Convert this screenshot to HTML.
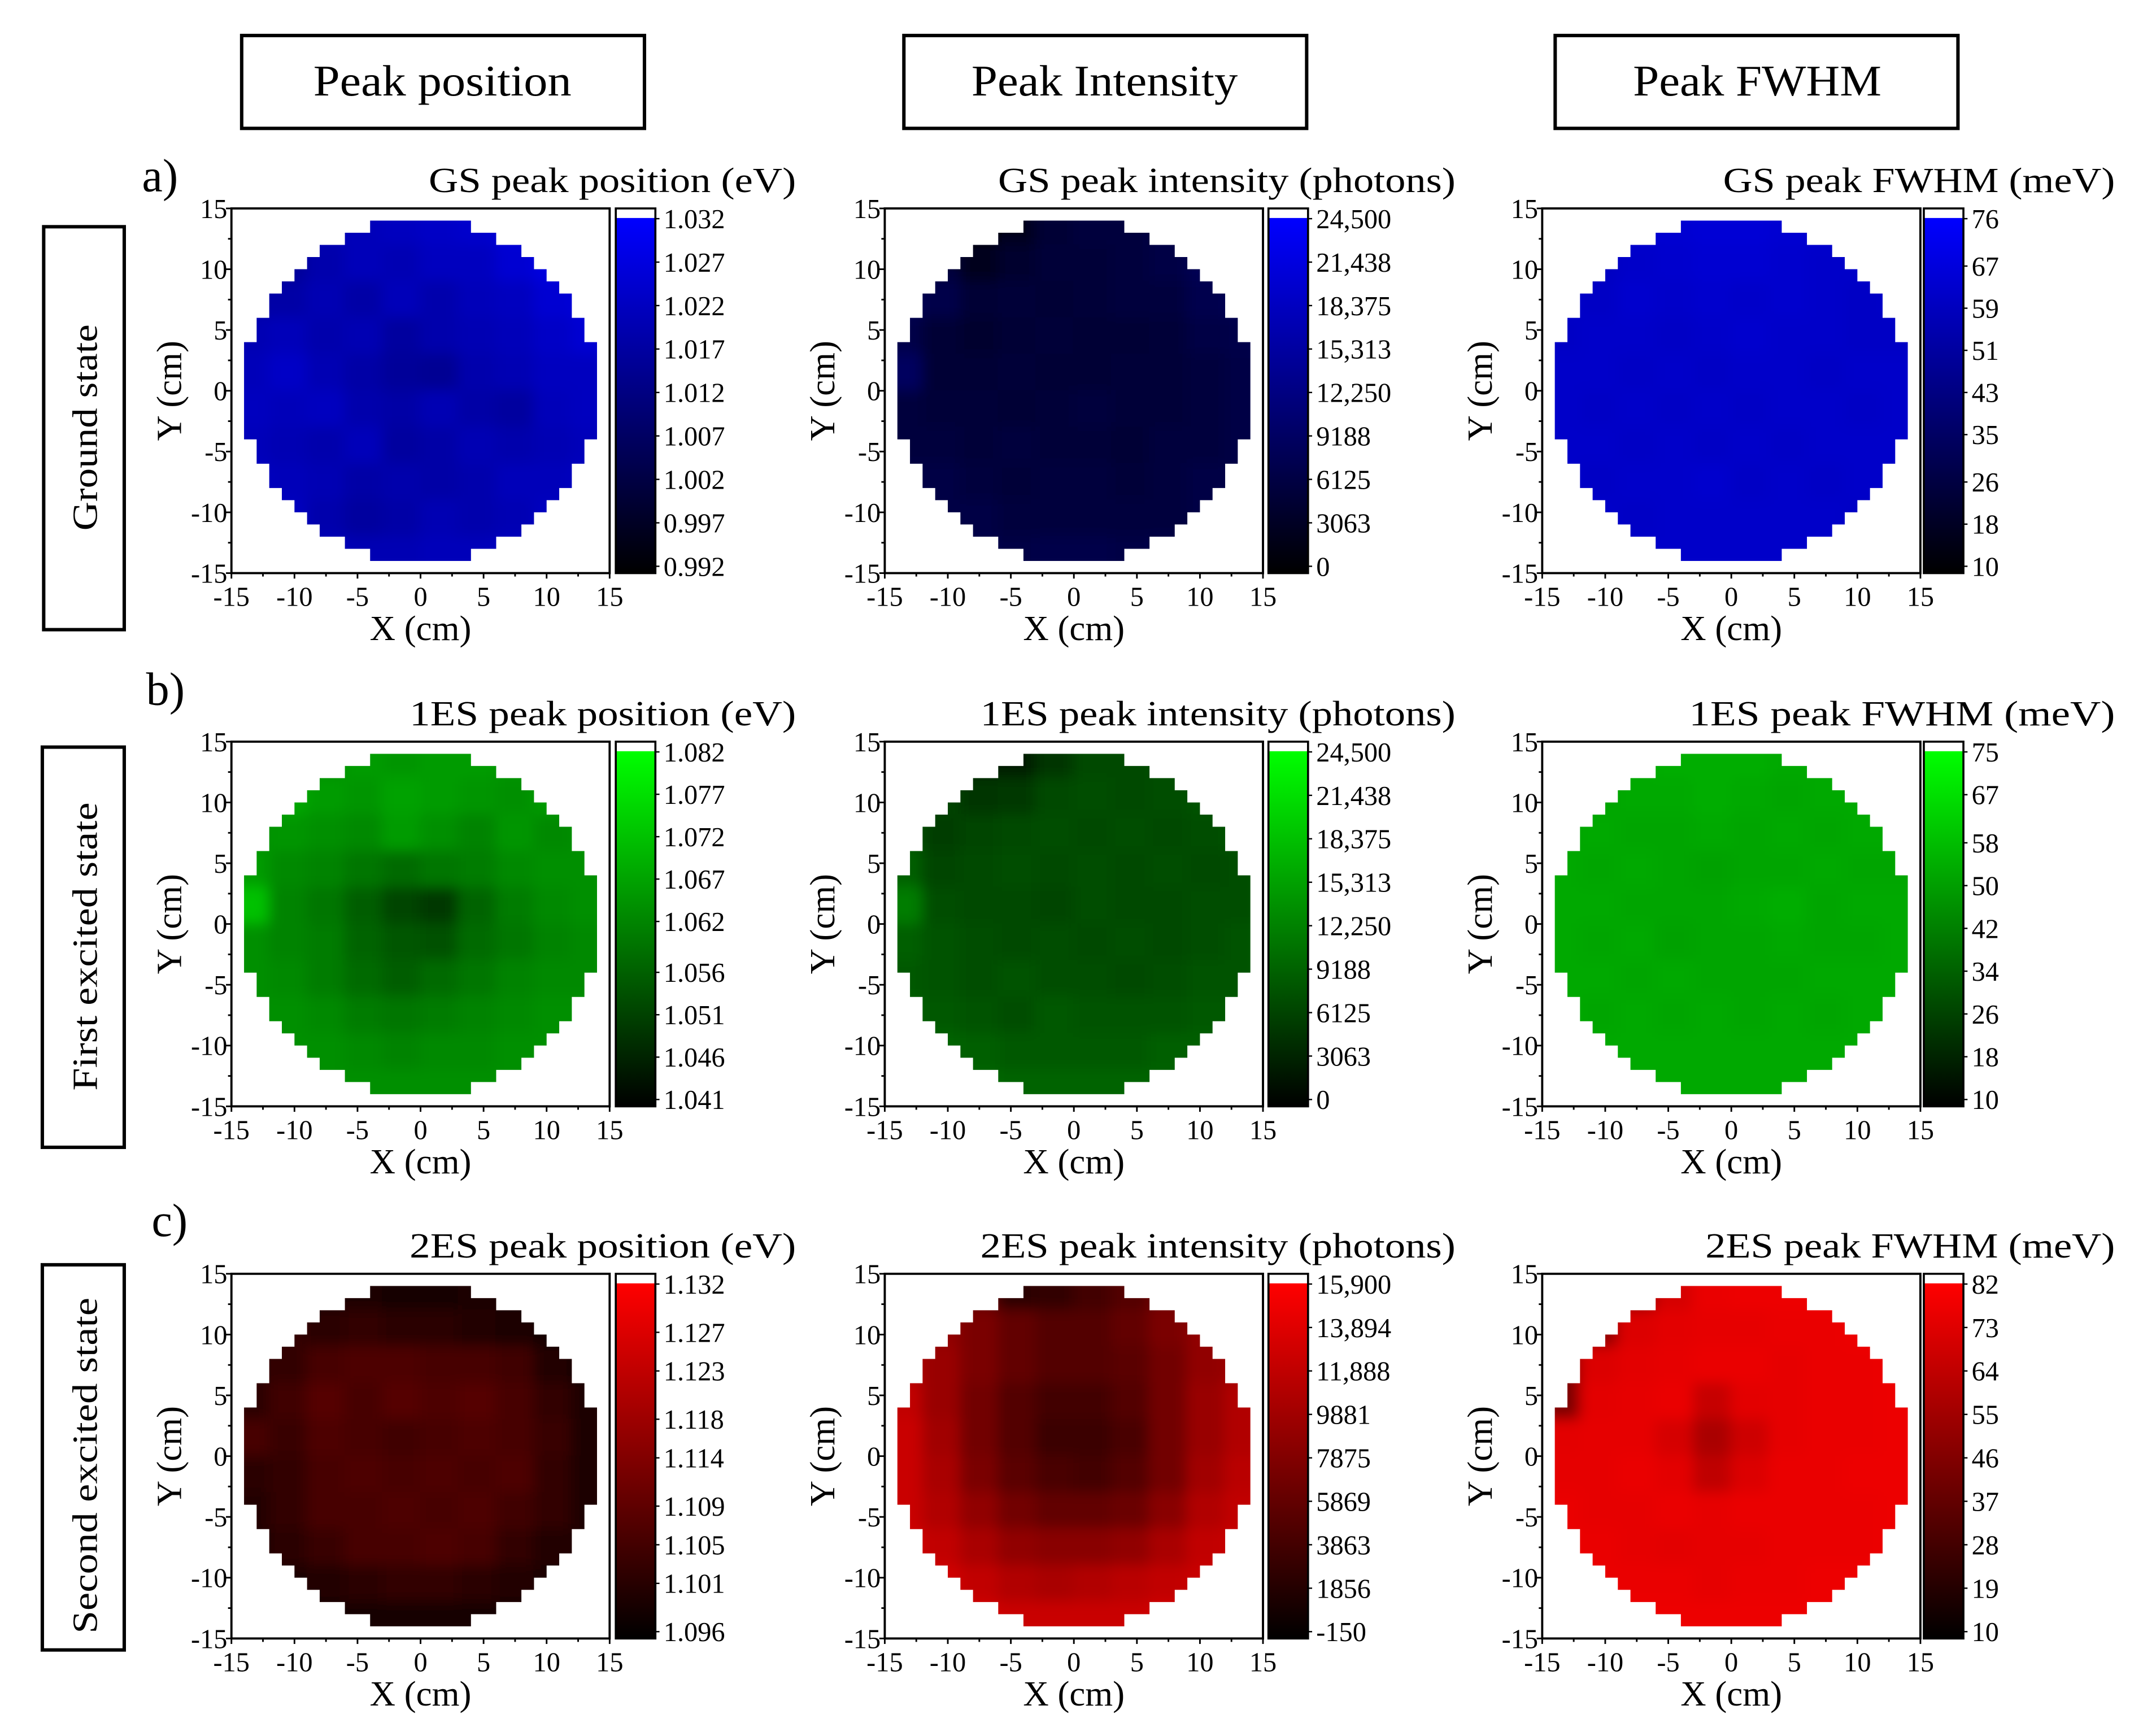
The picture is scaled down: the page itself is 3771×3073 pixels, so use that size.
<!DOCTYPE html>
<html><head><meta charset="utf-8">
<style>
html,body{margin:0;padding:0;background:#fff;}
svg{display:block;font-family:"Liberation Serif",serif;}
</style></head>
<body>
<svg id="fig" width="3771" height="3073" viewBox="0 0 1560 1271" preserveAspectRatio="none" xmlns="http://www.w3.org/2000/svg">
<defs>
<filter id="blur" x="-10%" y="-10%" width="120%" height="120%"><feGaussianBlur stdDeviation="5"/></filter>
</defs>
<rect width="1560" height="1271" fill="#fff"/>
<g>
<rect x="177" y="26" width="295" height="68" fill="none" stroke="#000" stroke-width="2.5"/>
<text x="324" y="70" font-size="32" text-anchor="middle" textLength="189" lengthAdjust="spacingAndGlyphs">Peak position</text></g>
<g>
<rect x="662" y="26" width="295" height="68" fill="none" stroke="#000" stroke-width="2.5"/>
<text x="809" y="70" font-size="32" text-anchor="middle" textLength="195" lengthAdjust="spacingAndGlyphs">Peak Intensity</text></g>
<g>
<rect x="1139" y="26" width="295" height="68" fill="none" stroke="#000" stroke-width="2.5"/>
<text x="1287" y="70" font-size="32" text-anchor="middle" textLength="182" lengthAdjust="spacingAndGlyphs">Peak FWHM</text></g>
<g>
<rect x="32" y="166" width="59" height="295" fill="none" stroke="#000" stroke-width="2.5"/>
<text transform="translate(71,313) rotate(-90)" font-size="26" text-anchor="middle" textLength="151" lengthAdjust="spacingAndGlyphs">Ground state</text></g>
<g>
<rect x="31" y="547" width="60" height="293" fill="none" stroke="#000" stroke-width="2.5"/>
<text transform="translate(71,693) rotate(-90)" font-size="26" text-anchor="middle" textLength="211" lengthAdjust="spacingAndGlyphs">First excited state</text></g>
<g>
<rect x="31" y="926" width="60" height="282" fill="none" stroke="#000" stroke-width="2.5"/>
<text transform="translate(71,1073) rotate(-90)" font-size="26" text-anchor="middle" textLength="246" lengthAdjust="spacingAndGlyphs">Second excited state</text></g>
<text x="104" y="140" font-size="34">a)</text>
<text x="107" y="516" font-size="34">b)</text>
<text x="111" y="905" font-size="34">c)</text>
<g id="panels"></g>
</svg>
<script>
// ---- data (values in colorbar units; 10x10 grid rows top(y=+15) to bottom(y=-15), cols left to right) ----
const gsPosition = [
[1.022,1.022,1.020,1.021,1.022,1.023,1.024,1.026,1.027,1.027],
[1.020,1.016,1.019,1.021,1.020,1.022,1.022,1.025,1.027,1.027],
[1.018,1.018,1.020,1.018,1.021,1.019,1.021,1.022,1.025,1.026],
[1.020,1.021,1.019,1.020,1.017,1.019,1.020,1.021,1.023,1.025],
[1.021,1.023,1.020,1.018,1.016,1.015,1.019,1.020,1.022,1.022],
[1.022,1.021,1.022,1.019,1.018,1.020,1.018,1.017,1.021,1.022],
[1.021,1.020,1.019,1.021,1.017,1.018,1.020,1.019,1.020,1.021],
[1.022,1.021,1.020,1.018,1.019,1.018,1.019,1.021,1.021,1.022],
[1.022,1.022,1.019,1.017,1.018,1.020,1.019,1.020,1.022,1.022],
[1.022,1.022,1.021,1.020,1.020,1.021,1.021,1.022,1.022,1.022]];
const gsIntensity = [
[3000,2000,1500,2500,5000,6000,6000,6500,7000,7000],
[4000,6000,3000,4500,5500,5500,6000,6500,8000,8000],
[8000,7000,5000,5500,5000,5500,6000,6000,7500,8000],
[7000,5000,4500,5000,5500,5000,5000,5500,6500,7000],
[9000,5000,5000,5500,5000,5000,5500,5500,6000,6500],
[6000,5500,5500,5000,5500,6000,5500,5500,6000,6500],
[6000,6000,5500,6000,5500,5500,5000,6000,6000,6500],
[6500,6500,6000,5500,6000,6000,5500,6000,6500,6500],
[6500,6500,6500,6000,6000,6000,6000,6000,6500,6500],
[7000,7000,7000,6500,7000,7000,6500,7000,7000,7000]];
const gsFwhm = [
[62,62,63,64,65,65,64,64,63,63],
[62,60,62,63,64,64,63,62,62,62],
[62,61,63,62,63,62,63,62,61,62],
[61,62,62,61,62,63,62,62,61,61],
[62,62,61,62,61,62,62,61,62,62],
[62,61,62,61,62,61,62,62,61,62],
[62,62,61,62,61,62,61,62,62,62],
[62,61,62,62,63,61,62,61,62,62],
[62,62,61,62,62,62,62,62,61,62],
[62,62,62,62,62,62,62,62,62,62]];
const es1Position = [
[1.066,1.066,1.064,1.066,1.065,1.066,1.066,1.065,1.066,1.066],
[1.066,1.068,1.066,1.065,1.067,1.066,1.065,1.064,1.066,1.066],
[1.064,1.065,1.064,1.063,1.066,1.064,1.062,1.065,1.063,1.064],
[1.066,1.063,1.062,1.060,1.058,1.060,1.061,1.063,1.064,1.064],
[1.072,1.062,1.060,1.056,1.052,1.050,1.057,1.061,1.063,1.064],
[1.064,1.062,1.061,1.057,1.055,1.054,1.058,1.060,1.062,1.063],
[1.064,1.063,1.061,1.058,1.056,1.058,1.060,1.062,1.063,1.063],
[1.064,1.064,1.063,1.061,1.060,1.061,1.062,1.063,1.064,1.064],
[1.064,1.064,1.064,1.063,1.062,1.063,1.063,1.064,1.064,1.064],
[1.064,1.064,1.064,1.064,1.064,1.064,1.064,1.064,1.064,1.064]];
const es1Intensity = [
[5000,4000,3500,3000,5000,7000,7000,7500,8000,8000],
[6000,6500,5000,5500,7000,7500,7000,7500,8000,8000],
[8000,6000,6500,7000,7500,7000,7500,7000,7500,8000],
[9000,6500,7000,7500,7000,7500,7000,7500,7000,7500],
[12000,7500,7000,7000,6500,7500,7000,7000,7500,7500],
[9000,8000,7500,7000,7500,7000,7500,7000,7500,8000],
[8500,8000,7500,8000,7500,7500,7000,7500,8000,8000],
[9000,8500,8000,7500,8500,8000,8000,8000,8500,8500],
[10000,9500,9000,8500,8500,8500,8500,9000,9000,9000],
[10000,10000,10000,9500,9500,9500,9500,9500,9500,9500]];
const es1Fwhm = [
[53,53,53,54,54,54,53,53,53,53],
[53,52,53,53,54,53,52,53,53,53],
[52,53,52,52,53,52,53,52,53,53],
[53,52,53,52,51,52,52,53,52,52],
[53,53,52,52,52,53,54,52,53,53],
[53,52,53,51,52,52,53,52,52,53],
[53,53,52,53,52,52,52,53,53,53],
[53,52,53,52,53,52,53,52,53,53],
[53,53,53,53,53,53,53,53,53,53],
[53,53,53,53,53,53,53,53,53,53]];
const es2Position = [
[1.100,1.100,1.100,1.100,1.099,1.099,1.100,1.100,1.099,1.099],
[1.106,1.103,1.102,1.103,1.102,1.102,1.101,1.100,1.099,1.099],
[1.103,1.103,1.106,1.107,1.107,1.106,1.106,1.105,1.101,1.099],
[1.102,1.105,1.108,1.106,1.108,1.107,1.108,1.106,1.103,1.100],
[1.106,1.104,1.107,1.106,1.105,1.106,1.107,1.106,1.104,1.100],
[1.102,1.103,1.106,1.107,1.106,1.107,1.106,1.107,1.103,1.100],
[1.101,1.103,1.106,1.106,1.107,1.106,1.107,1.105,1.103,1.100],
[1.100,1.102,1.104,1.106,1.106,1.107,1.106,1.103,1.101,1.100],
[1.100,1.100,1.101,1.102,1.103,1.103,1.102,1.101,1.100,1.100],
[1.099,1.099,1.099,1.099,1.099,1.099,1.099,1.099,1.099,1.099]];
const es2Intensity = [
[9000,8000,6000,2500,3000,4000,5000,7000,8000,8000],
[11000,9000,7500,6000,5000,5000,6000,7500,9000,9000],
[11000,9500,7500,6000,5000,5000,5500,7000,9000,10000],
[12000,9500,7000,5000,4000,4000,5000,7000,9500,11000],
[12500,10000,7000,5000,3500,3500,4500,7000,9500,11000],
[12500,10500,7500,5500,4500,4000,5000,7000,10000,11500],
[12500,11000,9000,7000,6000,6000,6500,8500,11000,12000],
[13000,12000,10500,9000,8500,8500,9000,10500,12000,12500],
[13000,13000,12000,11000,10500,11000,11500,12000,12500,13000],
[13000,13000,13000,12500,12500,12500,12500,13000,13000,13000]];
const es2Fwhm = [
[70,60,50,70,76,77,77,77,77,77],
[70,50,72,74,75,75,76,76,77,77],
[45,72,74,75,76,76,75,76,76,77],
[45,74,75,76,66,74,75,76,76,77],
[74,75,75,70,58,68,75,76,76,77],
[75,75,76,74,64,72,76,76,77,77],
[76,75,75,76,75,76,76,76,76,77],
[76,76,75,74,75,75,76,76,76,77],
[77,76,76,76,75,76,76,77,77,77],
[77,77,77,77,77,77,77,77,77,77]];
const xTickLabels = ["-15","-10","-5","0","5","10","15"];
const yTickLabels = ["15","10","5","0","-5","-10","-15"];
const gsPosTicks = ["1.032","1.027","1.022","1.017","1.012","1.007","1.002","0.997","0.992"];
const gsIntTicks = ["24,500","21,438","18,375","15,313","12,250","9188","6125","3063","0"];
const gsFwhmTicks = ["76","67","59","51","43","35","26","18","10"];
const es1PosTicks = ["1.082","1.077","1.072","1.067","1.062","1.056","1.051","1.046","1.041"];
const es1IntTicks = ["24,500","21,438","18,375","15,313","12,250","9188","6125","3063","0"];
const es1FwhmTicks = ["75","67","58","50","42","34","26","18","10"];
const es2PosTicks = ["1.132","1.127","1.123","1.118","1.114","1.109","1.105","1.101","1.096"];
const es2IntTicks = ["15,900","13,894","11,888","9881","7875","5869","3863","1856","-150"];
const es2FwhmTicks = ["82","73","64","55","46","37","28","19","10"];
const titles = [
 ["GS peak position (eV)","GS peak intensity (photons)","GS peak FWHM (meV)"],
 ["1ES peak position (eV)","1ES peak intensity (photons)","1ES peak FWHM (meV)"],
 ["2ES peak position (eV)","2ES peak intensity (photons)","2ES peak FWHM (meV)"]];

// ---- layout ----
const NS="http://www.w3.org/2000/svg";
const colX=[169.5,648,1129.5], colW=277, cbX=[451,929,1409], cbW=29;
const rowY=[152.6,543,932.6], rowH=267;
const titleRight=[583,1066,1549];
const titleLen=[[269,335,287],[283,348,312],[283,348,300]];
const baseColors=[[0,0,255],[0,255,0],[255,0,0]];
const grids=[[gsPosition,gsIntensity,gsFwhm],[es1Position,es1Intensity,es1Fwhm],[es2Position,es2Intensity,es2Fwhm]];
const ticks=[[gsPosTicks,gsIntTicks,gsFwhmTicks],[es1PosTicks,es1IntTicks,es1FwhmTicks],[es2PosTicks,es2IntTicks,es2FwhmTicks]];
const bandHalf=[4,6,8,9,10,11,12,12,13,13,14,14,14,14];
function num(s){return parseFloat(s.replace(/,/g,''));}
function mk(tag,attrs,parent){const e=document.createElementNS(NS,tag);for(const k in attrs)e.setAttribute(k,attrs[k]);parent.appendChild(e);return e;}
const root=document.getElementById('panels');
const names=["position","intensity","fwhm"], rows=["gs","1es","2es"];
for(let r=0;r<3;r++)for(let c=0;c<3;c++){
 const x0=colX[c],y0=rowY[r];
 const xs=v=>x0+(v+15)/30*colW;
 const ys=v=>y0+(15-v)/30*rowH;
 const g=mk('g',{},root);
 
 
 const tk=ticks[r][c]; const vmax=num(tk[0]), vmin=num(tk[8]);
 const base=baseColors[r];
 const col=v=>{let t=(v-vmin)/(vmax-vmin);t=Math.max(0,Math.min(1,t));return `rgb(${Math.round(base[0]*t)},${Math.round(base[1]*t)},${Math.round(base[2]*t)})`;};
 const cid='clip'+r+c;
 const cp=mk('clipPath',{id:cid},g);
 for(let i=0;i<bandHalf.length;i++){
  const h=bandHalf[i];
  mk('rect',{x:xs(-h),y:ys(14-i),width:xs(h)-xs(-h),height:ys(13-i)-ys(14-i)+0.3},cp);
  mk('rect',{x:xs(-h),y:ys(-13+i)-0.3,width:xs(h)-xs(-h),height:ys(-14+i)-ys(-13+i)+0.3},cp);
 }
 const hm=mk('g',{'clip-path':`url(#${cid})`},g);
 
 
 const inner=mk('g',{filter:'url(#blur)'},hm);
 const grid=grids[r][c]; const n=grid.length;
 for(let i=0;i<n;i++)for(let j=0;j<n;j++){
  const cx0=-15+30*j/n, cy0=15-30*i/n;
  const cell=mk('rect',{x:xs(cx0)-0.5,y:ys(cy0)-0.5,width:xs(cx0+30/n)-xs(cx0)+1,height:ys(cy0-30/n)-ys(cy0)+1,fill:col(grid[i][j])},inner);
  
  
 }
 const fr=mk('rect',{x:x0,y:y0,width:colW,height:rowH,fill:'none',stroke:'#000','stroke-width':1.6},g);
 
 
 for(let v=-15;v<=15;v+=2.5){
  const L=(v%5===0)?4:2.5;
  mk('line',{x1:xs(v),x2:xs(v),y1:y0+rowH,y2:y0+rowH+L,stroke:'#000','stroke-width':1.2},g);
  mk('line',{x1:x0,x2:x0-L,y1:ys(v),y2:ys(v),stroke:'#000','stroke-width':1.2},g);
 }
 xTickLabels.forEach(s=>{const t=mk('text',{x:xs(num(s)),y:y0+rowH+24,'font-size':20,'text-anchor':'middle'},g);t.textContent=s;
  
  });
 yTickLabels.forEach(s=>{const t=mk('text',{x:x0-3,y:ys(num(s))+7,'font-size':20,'text-anchor':'end'},g);t.textContent=s;
  
  });
 const xl=mk('text',{x:x0+colW/2,y:y0+rowH+49,'font-size':26,'text-anchor':'middle'},g);xl.textContent='X (cm)';
 
 
 const yl=mk('text',{transform:`translate(${x0-37},${y0+rowH/2}) rotate(-90)`,'font-size':26,'text-anchor':'middle'},g);yl.textContent='Y (cm)';
 
 
 const ti=mk('text',{x:titleRight[c],y:y0-12,'font-size':26,'text-anchor':'end',textLength:titleLen[r][c],lengthAdjust:'spacingAndGlyphs'},g);ti.textContent=titles[r][c];
 
 
 const cb=mk('g',{},g);
 
 
 const gid='grad'+r+c;
 const lg=mk('linearGradient',{id:gid,x1:0,y1:1,x2:0,y2:0},cb);
 mk('stop',{offset:0,'stop-color':'#000'},lg);
 mk('stop',{offset:1,'stop-color':`rgb(${base.join(',')})`},lg);
 const cTop=y0+7, cBot=y0+rowH;
 mk('rect',{x:cbX[c],y:y0,width:cbW,height:7,fill:'#fff'},cb);
 mk('rect',{x:cbX[c],y:cTop,width:cbW,height:cBot-cTop,fill:`url(#${gid})`},cb);
 mk('rect',{x:cbX[c],y:y0,width:cbW,height:rowH,fill:'none',stroke:'#000','stroke-width':1.5},cb);
 const tTop=y0+7.5, tBot=y0+rowH-5;
 tk.forEach((s,k)=>{const yy=tTop+(tBot-tTop)*(vmax-num(s))/(vmax-vmin);
  mk('line',{x1:cbX[c]+cbW,x2:cbX[c]+cbW+3,y1:yy,y2:yy,stroke:'#000','stroke-width':1},cb);
  const t=mk('text',{x:cbX[c]+cbW+6,y:yy+7,'font-size':20},cb);t.textContent=s;
  
  });
}
</script>
</body></html>
